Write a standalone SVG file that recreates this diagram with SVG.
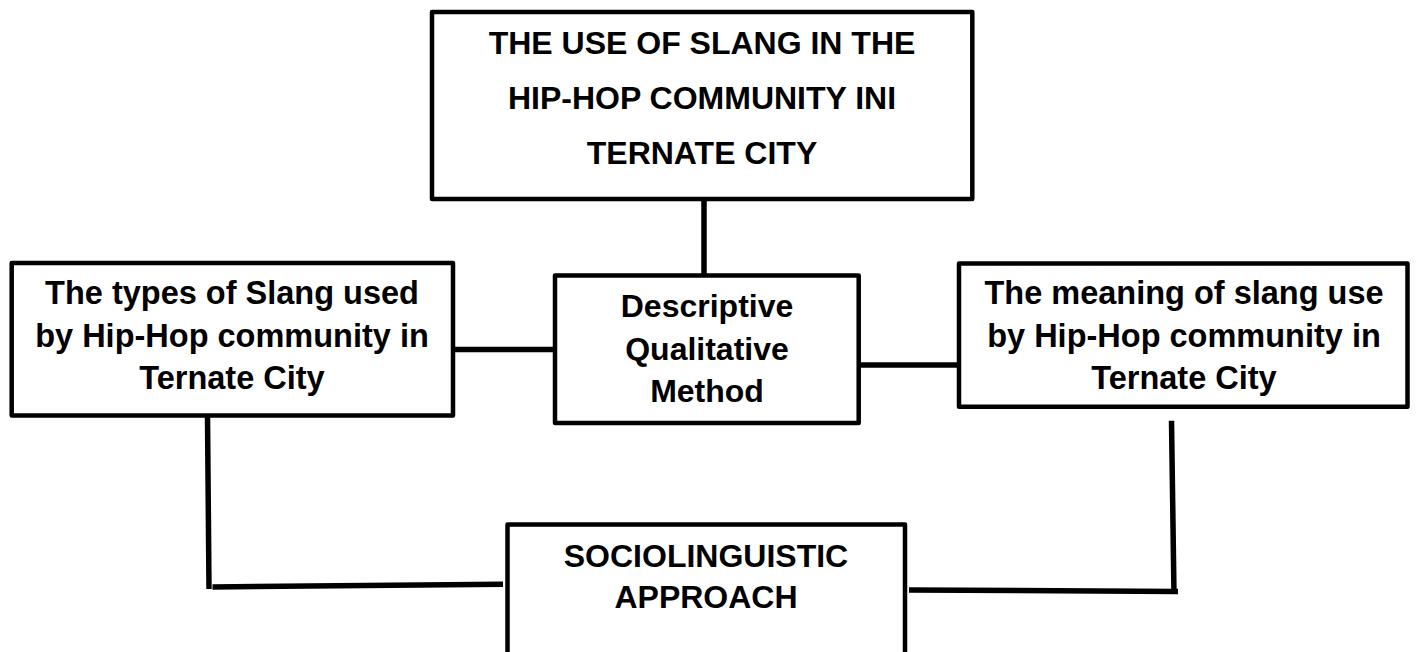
<svg xmlns="http://www.w3.org/2000/svg" width="1416" height="652" viewBox="0 0 1416 652">
  <style>
    .box { fill: #ffffff; stroke: #000000; stroke-width: 4.5; stroke-linejoin: round; }
    .conn { stroke: #000000; stroke-width: 5.5; fill: none; stroke-linecap: butt; }
    .lbl { font-family: "Liberation Sans", Arial, sans-serif; font-weight: bold; font-size: 32px; fill: #000000; text-anchor: middle; }
    .side { font-size: 32.5px; }
  </style>
  <rect width="1416" height="652" fill="#ffffff"/>
  <g id="connectors">
    <line class="conn" x1="704" y1="199" x2="704" y2="275"/>
    <line class="conn" x1="453" y1="349.5" x2="555" y2="349.5"/>
    <line class="conn" x1="858.7" y1="365" x2="959" y2="365"/>
    <line class="conn" x1="207.5" y1="416" x2="209" y2="589"/>
    <line class="conn" x1="212.5" y1="587" x2="503" y2="584.3"/>
    <line class="conn" x1="1171.5" y1="420.7" x2="1174" y2="594"/>
    <line class="conn" x1="909" y1="590" x2="1178" y2="591.5"/>
  </g>
  <g id="node-title">
    <rect class="box" x="432" y="12" width="540.3" height="187"/>
    <text class="lbl" x="702" y="54">THE USE OF SLANG IN THE</text>
    <text class="lbl" x="702" y="109.3">HIP-HOP COMMUNITY INI</text>
    <text class="lbl" x="702" y="164">TERNATE CITY</text>
  </g>
  <g id="node-types">
    <rect class="box" x="11.7" y="263" width="441.3" height="152.5"/>
    <text class="lbl side" x="232" y="304">The types of Slang used</text>
    <text class="lbl side" x="232" y="346.7">by Hip-Hop community in</text>
    <text class="lbl side" x="232" y="389">Ternate City</text>
  </g>
  <g id="node-method">
    <rect class="box" x="555" y="275.5" width="303.7" height="147.5"/>
    <text class="lbl" x="707" y="316.7">Descriptive</text>
    <text class="lbl" x="707" y="359.5">Qualitative</text>
    <text class="lbl" x="707" y="401.7">Method</text>
  </g>
  <g id="node-meaning">
    <rect class="box" x="959" y="263.5" width="448.5" height="143.2"/>
    <text class="lbl side" x="1184" y="304">The meaning of slang use</text>
    <text class="lbl side" x="1184" y="346.7">by Hip-Hop community in</text>
    <text class="lbl side" x="1184" y="389.3">Ternate City</text>
  </g>
  <g id="node-approach">
    <rect class="box" x="507.5" y="524.5" width="397.5" height="140"/>
    <text class="lbl" x="706" y="566.7">SOCIOLINGUISTIC</text>
    <text class="lbl" x="706" y="608.3">APPROACH</text>
  </g>
</svg>
